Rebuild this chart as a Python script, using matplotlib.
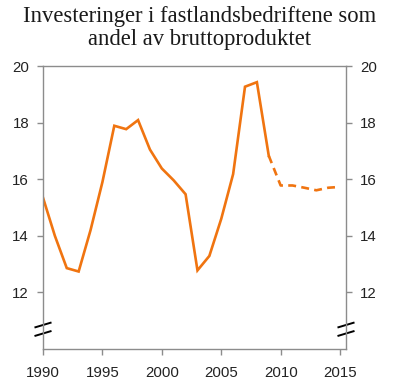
import matplotlib.pyplot as plt
from matplotlib.lines import Line2D

# Data (share of gross product, %)
years_hist = [1990, 1991, 1992, 1993, 1994, 1995, 1996, 1997, 1998, 1999,
              2000, 2001, 2002, 2003, 2004, 2005, 2006, 2007, 2008, 2009]
vals_hist = [15.35, 14.0, 12.86, 12.74, 14.2, 15.9, 17.89, 17.77, 18.09, 17.05,
             16.38, 15.96, 15.47, 12.78, 13.29, 14.6, 16.18, 19.27, 19.43, 16.83]
years_proj = [2009, 2010, 2011, 2012, 2013, 2014, 2015]
vals_proj = [16.83, 15.78, 15.78, 15.7, 15.61, 15.7, 15.73]

orange = '#F07410'
grey = '#8c8c8c'

plt.rcParams['font.family'] = ['Liberation Sans', 'DejaVu Sans']

fig = plt.figure(figsize=(4.0, 3.84), dpi=100)
ax = fig.add_axes([0.1075, 0.091, 0.7575, 0.737])

ax.plot(years_hist, vals_hist, color=orange, lw=1.9, solid_joinstyle='miter')
ax.plot(years_proj, vals_proj, color=orange, lw=1.9, ls=(0, (3, 2)))

ax.set_xlim(1990, 2015.5)
ax.set_ylim(10, 20)
ax.set_xticks([1990, 1995, 2000, 2005, 2010, 2015])
ax.set_yticks([12, 14, 16, 18, 20])

ax.tick_params(axis='both', colors=grey, labelcolor='#222222', labelsize=10.8,
               length=4, width=1, direction='out')
ax.tick_params(axis='y', left=True, right=True, labelleft=True, labelright=True, pad=6)
ax.tick_params(axis='x', pad=8)
for s in ax.spines.values():
    s.set_color(grey)
    s.set_linewidth(1)

# axis break marks
for xb in (0.0, 1.0):
    for yb in (0.055, 0.085):
        ax.add_line(Line2D([xb - 0.025, xb + 0.025], [yb - 0.008, yb + 0.008],
                           transform=ax.transAxes, color='black', lw=1.4,
                           clip_on=False))

fig.text(0.5, 0.985, 'Investeringer i fastlandsbedriftene som\nandel av bruttoproduktet',
         ha='center', va='top', fontsize=16.3, family='Liberation Serif',
         linespacing=1.17, color='#1a1a1a')

fig.savefig('out.png', dpi=100)
